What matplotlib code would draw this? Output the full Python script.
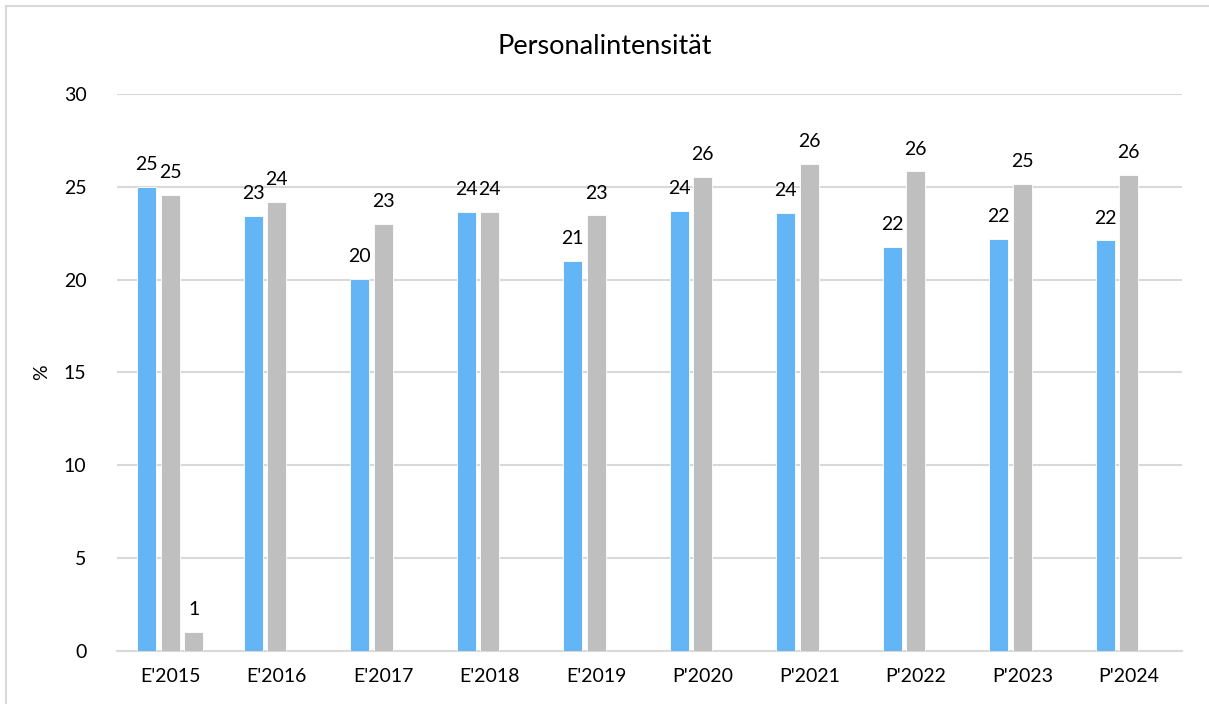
import numpy as np
import matplotlib
matplotlib.use("Agg")
import matplotlib.pyplot as plt
from matplotlib.patches import Rectangle

plt.rcParams['font.family'] = ['Lato', 'DejaVu Sans']

# Data
categories = ["E'2015", "E'2016", "E'2017", "E'2018", "E'2019",
              "P'2020", "P'2021", "P'2022", "P'2023", "P'2024"]
series_a = [25.0, 23.44, 20.03, 23.64, 21.0, 23.69, 23.59, 21.74, 22.17, 22.11]
series_b = [24.54, 24.2, 22.98, 23.64, 23.46, 25.54, 26.22, 25.83, 25.16, 25.65]
series_c = [1.04, None, None, None, None, None, None, None, None, None]

blue = '#64B5F6'
gray = '#BFBFBF'
grid_col = '#D9D9D9'

fig = plt.figure(figsize=(12.09, 7.04), dpi=100)
ax = fig.add_axes([0.0968, 0.0753, 0.8809, 0.7912])

x = np.arange(len(categories))
step = 0.22
width = 0.18

def draw(vals, offset, color):
    xs = [xi + offset for xi, v in zip(x, vals) if v is not None]
    vs = [v for v in vals if v is not None]
    bars = ax.bar(xs, vs, width=width, color=color, edgecolor='white',
                  linewidth=0.6, zorder=3)
    for b, v in zip(bars, vs):
        ax.annotate(f'{v:.0f}', (b.get_x() + b.get_width() / 2, v),
                    xytext=(0, 10), textcoords='offset points',
                    ha='center', va='bottom', fontsize=14, color='#000000')

draw(series_a, -step, blue)
draw(series_b, 0, gray)
draw(series_c, step, gray)

ax.set_xlim(-0.5, len(categories) - 0.5)
ax.set_ylim(0, 30)
ax.set_yticks(range(0, 31, 5))
ax.set_xticks(x)
ax.set_xticklabels(categories)
ax.tick_params(axis='both', length=0, labelsize=14, colors='#000000')
ax.tick_params(axis='y', pad=22)
ax.tick_params(axis='x', pad=12)
ax.yaxis.grid(True, color=grid_col, linewidth=1.5, zorder=0)
for s in ['top', 'right', 'left']:
    ax.spines[s].set_visible(False)
ax.spines['bottom'].set_color(grid_col)
ax.spines['bottom'].set_linewidth(1.5)
ax.set_ylabel('%', fontsize=14, labelpad=10)

fig.text(0.5, 1 - 47 / 704, 'Personalintensität', ha='center', va='center',
         fontsize=19.5)

# outer chart frame
fig.patches.append(Rectangle((6 / 1209, -0.05), 1.2, 1.05 - 6 / 704,
                             transform=fig.transFigure, fill=False,
                             edgecolor=grid_col, linewidth=1.5))

fig.savefig('out.png', dpi=100)
